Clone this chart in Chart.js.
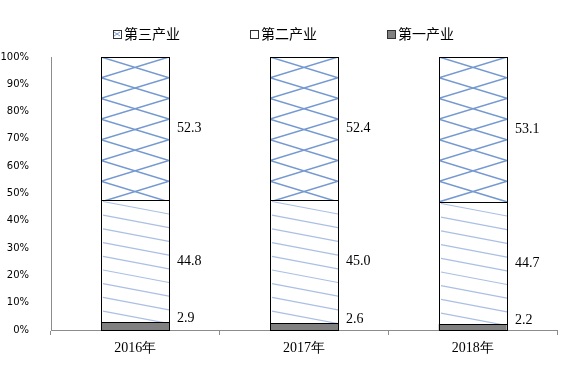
<!DOCTYPE html>
<html>
<head>
<meta charset="utf-8">
<script src="https://cdn.jsdelivr.net/npm/chart.js@4/dist/chart.umd.min.js"></script>
<style>
  body { margin: 0; background: #fff; }
</style>
</head>
<body>
<canvas id="chart" width="577" height="367"></canvas>
<script>
const years = ['2016年', '2017年', '2018年'];
const seriesNames = ['第一产业', '第二产业', '第三产业'];
const primary = [2.9, 2.6, 2.2];
const secondary = [44.8, 45.0, 44.7];
const tertiary = [52.3, 52.4, 53.1];
const yTicks = [0, 10, 20, 30, 40, 50, 60, 70, 80, 90, 100];

// fill style of each series: solid grey, light diagonal lines, blue cross lines
const hatches = ['solid', 'diag', 'cross'];

function drawHatch(ctx, kind, l, t, r, b) {
  ctx.save();
  ctx.beginPath();
  ctx.rect(l, t, r - l, b - t);
  ctx.clip();
  if (kind === 'cross') {
    const p = 20.7;
    ctx.strokeStyle = 'rgba(92,134,200,0.85)';
    ctx.lineWidth = 1.5;
    ctx.beginPath();
    for (let y = t; y < b; y += p) {
      ctx.moveTo(l, y); ctx.lineTo(r, y + p);
      ctx.moveTo(l, y + p); ctx.lineTo(r, y);
    }
    ctx.stroke();
  } else if (kind === 'diag') {
    ctx.strokeStyle = 'rgba(165,188,226,0.95)';
    ctx.lineWidth = 1.2;
    ctx.beginPath();
    for (let y = t + 1.5; y < b; y += 13.7) {
      ctx.moveTo(l + 2, y); ctx.lineTo(r, y + 12.5);
    }
    ctx.stroke();
  }
  ctx.restore();
}

const barStyle = {
  id: 'barStyle',
  afterDatasetsDraw(chart) {
    const ctx = chart.ctx;
    chart.data.datasets.forEach((ds, i) => {
      chart.getDatasetMeta(i).data.forEach((bar, j) => {
        const l = Math.round(bar.x - bar.width / 2);
        const r = Math.round(bar.x + bar.width / 2);
        const t = Math.round(Math.min(bar.y, bar.base));
        const b = Math.round(Math.max(bar.y, bar.base));
        drawHatch(ctx, hatches[i], l, t, r, b);
        ctx.save();
        ctx.strokeStyle = '#000';
        ctx.lineWidth = 1;
        ctx.strokeRect(l + 0.5, t + 0.5, r - l, b - t);
        // value label on the right of the segment
        ctx.fillStyle = '#000';
        ctx.font = '14px "Liberation Serif", "Times New Roman", serif';
        ctx.textAlign = 'left';
        ctx.textBaseline = 'middle';
        const ly = i === 0 ? t - 4 : (t + b) / 2;
        ctx.fillText(ds.data[j].toFixed(1), r + 8, ly);
        ctx.restore();
      });
    });
  }
};

const topLegend = {
  id: 'topLegend',
  afterDraw(chart) {
    const ctx = chart.ctx;
    ctx.save();
    ctx.font = '14px "Noto Sans CJK SC", sans-serif';
    ctx.textBaseline = 'middle';
    ctx.textAlign = 'left';
    const box = 8, gapText = 3, gapItem = 70, cy = 34;
    const items = chart.data.datasets.map((ds, i) => ({ text: ds.label, kind: hatches[i] })).reverse();
    const widths = items.map(it => box + gapText + ctx.measureText(it.text).width);
    const total = widths.reduce((a, w) => a + w, 0) + gapItem * (items.length - 1);
    let x = Math.round(chart.width / 2 - 5 - total / 2);
    items.forEach((it, k) => {
      const bx = x, by = Math.round(cy - box / 2);
      ctx.fillStyle = it.kind === 'solid' ? '#808080' : '#fff';
      ctx.fillRect(bx, by, box, box);
      if (it.kind === 'cross') {
        ctx.strokeStyle = 'rgba(92,134,200,0.8)';
        ctx.lineWidth = 1;
        ctx.beginPath();
        ctx.moveTo(bx + 1, by + 2); ctx.lineTo(bx + box - 1, by + box - 2);
        ctx.moveTo(bx + 1, by + box - 2); ctx.lineTo(bx + box - 1, by + 2);
        ctx.stroke();
      }
      ctx.strokeStyle = '#333';
      ctx.lineWidth = 1;
      ctx.strokeRect(bx + 0.5, by + 0.5, box, box);
      ctx.fillStyle = '#000';
      ctx.fillText(it.text, bx + box + gapText, cy);
      x += widths[k] + gapItem;
    });
    ctx.restore();
  }
};

const seriesData = [primary, secondary, tertiary];

new Chart(document.getElementById('chart'), {
  type: 'bar',
  data: {
    labels: years,
    datasets: seriesNames.map((name, i) => ({
      label: name,
      data: seriesData[i],
      backgroundColor: i === 0 ? '#808080' : '#ffffff',
      borderWidth: 0,
      barPercentage: 0.403,
      categoryPercentage: 1
    }))
  },
  options: {
    responsive: false,
    devicePixelRatio: 1,
    animation: false,
    layout: { padding: { top: 57, right: 20, left: 0, bottom: 0 } },
    plugins: {
      legend: { display: false },
      tooltip: { enabled: false }
    },
    scales: {
      x: {
        stacked: true,
        grid: { drawOnChartArea: false, drawTicks: true, tickLength: 5, color: '#8c8c8c', offset: true },
        border: { display: true, color: '#8c8c8c' },
        ticks: {
          color: '#000',
          padding: 5,
          font: { family: '"Liberation Serif", "Times New Roman", serif', size: 14 }
        },
        afterFit: s => { s.height = 37; }
      },
      y: {
        stacked: true,
        min: 0,
        max: 100,
        grid: { display: false },
        border: { display: true, color: '#8c8c8c' },
        afterBuildTicks: s => { s.ticks = yTicks.map(v => ({ value: v })); },
        ticks: {
          color: '#000',
          padding: 14,
          font: { family: '"DejaVu Sans", Verdana, sans-serif', size: 10 },
          callback: v => v + '%'
        },
        afterFit: s => { s.width = 51; }
      }
    }
  },
  plugins: [barStyle, topLegend]
});
</script>
</body>
</html>
